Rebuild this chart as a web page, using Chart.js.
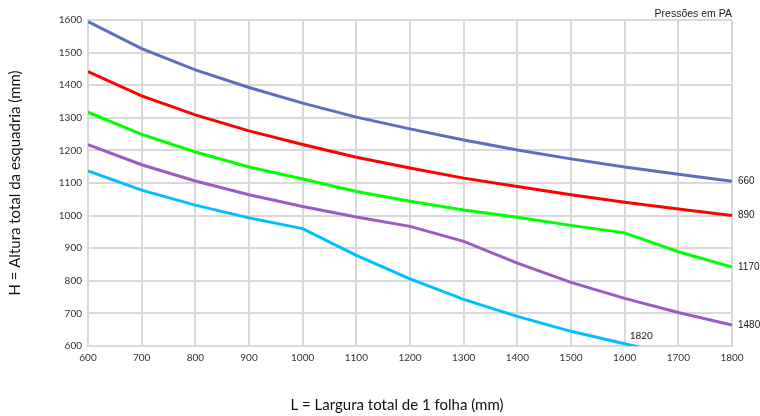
<!DOCTYPE html>
<html>
<head>
<meta charset="utf-8">
<script src="https://cdn.jsdelivr.net/npm/chart.js@4/dist/chart.umd.min.js"></script>
<style>
html,body{margin:0;padding:0;background:#fff;}
#c{display:block;}
</style>
</head>
<body>
<canvas id="c" width="760" height="416"></canvas>
<script>
// Data
const larguras = [600, 700, 800, 900, 1000, 1100, 1200, 1300, 1400, 1500, 1600, 1700, 1800];
const serie660  = [1595, 1512, 1447, 1393, 1345, 1302, 1266, 1232, 1201, 1174, 1149, 1127, 1105];
const serie890  = [1442, 1367, 1309, 1260, 1218, 1179, 1146, 1115, 1089, 1064, 1041, 1020, 1000];
const serie1170 = [1317, 1249, 1195, 1149, 1112, 1074, 1044, 1017, 995, 970, 947, 889, 842];
const serie1480 = [1218, 1156, 1106, 1064, 1028, 996, 967, 921, 854, 795, 746, 703, 664];
const serie1820 = [1137, 1078, 1032, 993, 960, 878, 806, 743, 691, 645, 607, 568, null];
const pressoes = ['660', '890', '1170', '1480', '1820'];
const cores = ['#5b6fbe', '#ff0000', '#00ff00', '#9b5cbf', '#00bfff'];
const series = [serie660, serie890, serie1170, serie1480, serie1820];
const tituloX = 'L = Largura total de 1 folha (mm)';
const tituloY = 'H = Altura total da esquadria (mm)';

const datasets = series.map((s, i) => ({
  label: pressoes[i],
  data: larguras.map((x, j) => ({x: x, y: s[j]})),
  borderColor: cores[i],
  backgroundColor: cores[i],
  borderWidth: 3,
  pointRadius: 0,
  tension: 0,
  fill: false
}));

const labelPlugin = {
  id: 'endLabels',
  afterDatasetsDraw(chart) {
    const ctx = chart.ctx;
    const xs = chart.scales.x, ys = chart.scales.y;
    const area = chart.chartArea;
    ctx.save();
    ctx.fillStyle = '#222';
    ctx.font = '10px "Liberation Sans", Arial, sans-serif';
    ctx.textBaseline = 'middle';
    ctx.textAlign = 'left';
    for (let i = 0; i < 4; i++) {
      const s = series[i];
      const last = s[s.length - 1];
      ctx.fillText(pressoes[i], area.right + 6, ys.getPixelForValue(last));
    }
    ctx.font = '10px Lato, "Open Sans", sans-serif';
    ctx.fillText(pressoes[4], xs.getPixelForValue(1600) + 5, ys.getPixelForValue(600) - 10);
    ctx.font = '10.5px "Liberation Sans", Arial, sans-serif';
    ctx.textAlign = 'right';
    ctx.fillText('Pressões em PA', area.right, area.top - 6);
    // axis title under the x axis
    ctx.fillStyle = '#111';
    ctx.font = '15px Lato, "Open Sans", sans-serif';
    ctx.textAlign = 'center';
    ctx.fillText(tituloX, 397, 405);
    ctx.restore();
  }
};

const fmt = v => String(v);

new Chart(document.getElementById('c'), {
  type: 'line',
  data: { datasets: datasets },
  options: {
    responsive: false,
    animation: false,
    events: [],
    layout: { padding: { left: 0, right: 28, top: 20, bottom: 0 } },
    plugins: { legend: { display: false }, tooltip: { enabled: false } },
    scales: {
      x: {
        type: 'linear',
        min: 600, max: 1800,
        afterFit(scale) { scale.height = 70; },
        ticks: { stepSize: 100, padding: 6, color: '#333', callback: fmt, font: { family: 'Lato, "Open Sans", sans-serif', size: 10 } },
        grid: { color: '#d9d9d9', lineWidth: 2, drawTicks: false },
        border: { color: '#d9d9d9', width: 2 },
        title: { display: false }
      },
      y: {
        min: 600, max: 1600,
        afterFit(scale) { scale.width = 88; },
        ticks: { stepSize: 100, padding: 6, color: '#333', callback: fmt, font: { family: 'Lato, "Open Sans", sans-serif', size: 10 } },
        grid: { color: '#d9d9d9', lineWidth: 2, drawTicks: false },
        border: { color: '#d9d9d9', width: 2 },
        title: { display: true, text: tituloY, color: '#111', padding: { top: 6, bottom: 0 }, font: { family: 'Lato, "Open Sans", sans-serif', size: 15 } }
      }
    }
  },
  plugins: [labelPlugin]
});
</script>
</body>
</html>
